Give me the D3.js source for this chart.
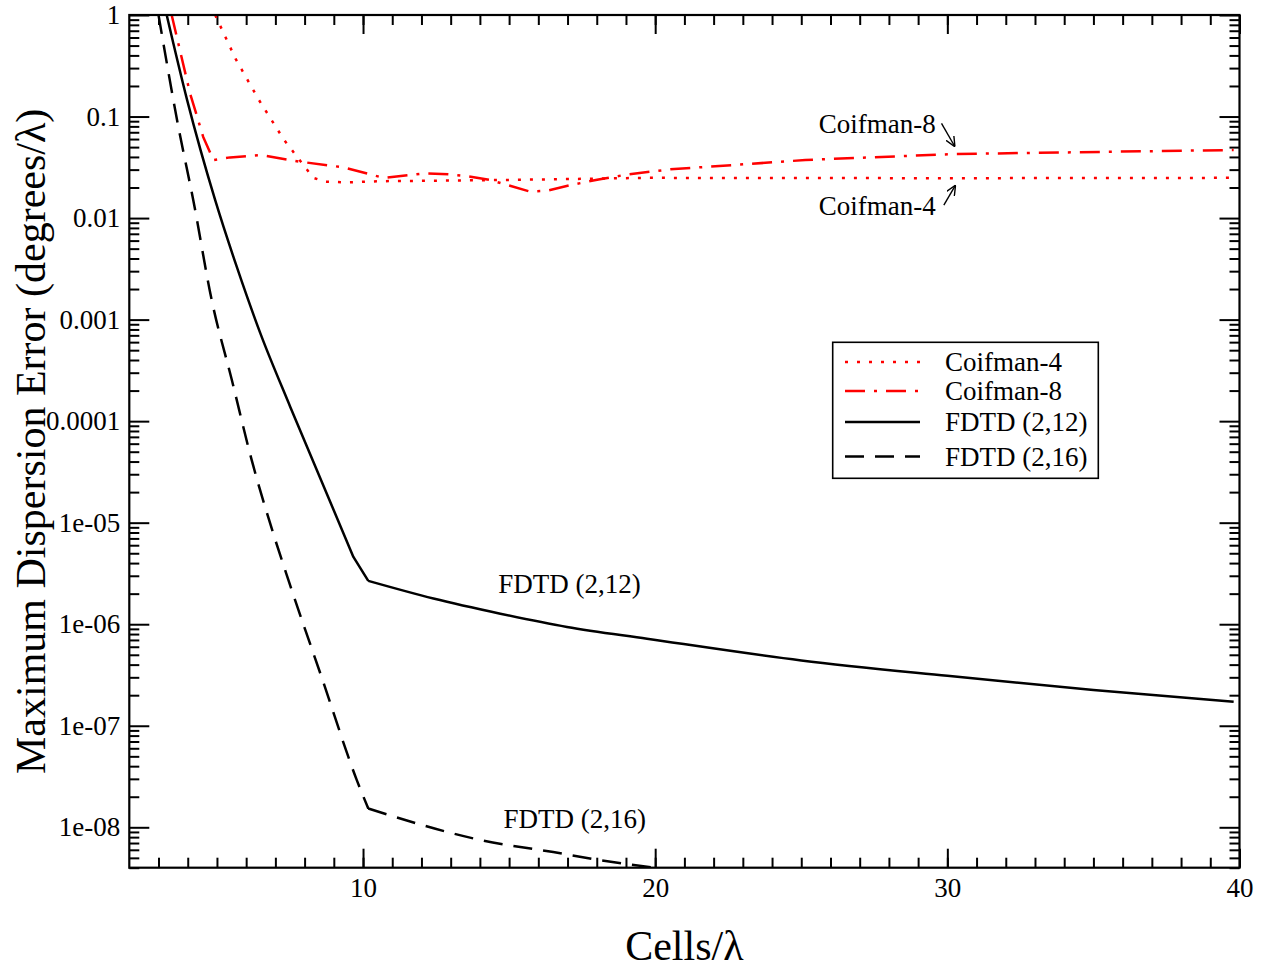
<!DOCTYPE html>
<head>
  <meta charset="utf-8">
  <script src="https://d3js.org/d3.v7.min.js"></script>
  <style>
    body { margin: 0; background: #fff; }
    text { font-family: "Liberation Serif", "Times New Roman", serif; }
  </style>
</head>
<body>

<div id="my_dataviz"></div>

<script>

  // values (cells per wavelength, max dispersion error)
  var coif4N = [4.94, 5.64, 6.44, 7.3, 8.05, 8.3, 8.7, 9.5, 10.7, 12.3, 14.75, 19.72, 30, 39.8];
  var coif4V = [1.0, 0.369, 0.145, 0.0587, 0.0308, 0.0249, 0.0228, 0.0225, 0.0231, 0.0233, 0.0237, 0.0249, 0.0247, 0.0249];

  var coif8N = [3.45, 4.08, 4.53, 4.88, 5.45, 6.48, 7.85, 9.33, 10.7, 12.07, 12.92, 13.55, 14.35, 15.72, 16.3, 17.1, 18.06, 19.09, 20.52, 25.14, 30.2, 35.6, 39.8];
  var coif8V = [1.0, 0.169, 0.063, 0.0373, 0.0396, 0.0418, 0.0359, 0.0316, 0.0249, 0.0275, 0.0270, 0.0259, 0.0237, 0.0182, 0.0186, 0.0211, 0.0240, 0.0270, 0.0302, 0.0373, 0.0427, 0.045, 0.0468];

  var fdtd12N = [3.28, 3.98, 4.94, 5.68, 6.48, 7.51, 9.67, 10.18, 12.41, 14.7, 16.98, 19.72, 25, 30, 35, 39.8];
  var fdtd12V = [1.0, 0.145, 0.015, 3.3e-3, 7.4e-4, 1.38e-4, 4.6e-6, 2.67e-6, 1.79e-6, 1.27e-6, 9.4e-7, 7.2e-7, 4.4e-7, 3.1e-7, 2.25e-7, 1.72e-7];

  var fdtd16N = [3.0, 3.68, 4.19, 4.82, 5.51, 6.19, 6.93, 7.45, 8.62, 9.79, 10.18, 14.12, 16.51, 18.12, 20];
  var fdtd16V = [1.0, 0.079, 0.015, 1.56e-3, 2.54e-4, 4.13e-5, 7.8e-6, 2.7e-6, 2.8e-7, 2.9e-8, 1.53e-8, 7.4e-9, 5.7e-9, 4.73e-9, 4.0e-9];

  var xTicks = [10, 20, 30, 40];
  var yTicks = [1e-8, 1e-7, 1e-6, 1e-5, 1e-4, 1e-3, 1e-2, 1e-1, 1];
  var yTickLabels = ["1e-08", "1e-07", "1e-06", "1e-05", "0.0001", "0.001", "0.01", "0.1", "1"];

  // corners: N values where the curve has a sharp bend
  var series = [
    {name: "Coifman-4",   n: coif4N,  v: coif4V,  color: "#ff0000", dash: "3,9",      smooth: false, corners: []},
    {name: "Coifman-8",   n: coif8N,  v: coif8V,  color: "#ff0000", dash: "20,9,3,9", smooth: false, corners: []},
    {name: "FDTD (2,12)", n: fdtd12N, v: fdtd12V, color: "#000000", dash: null,       smooth: true,  corners: [9.67, 10.18]},
    {name: "FDTD (2,16)", n: fdtd16N, v: fdtd16V, color: "#000000", dash: "19,11",    smooth: true,  corners: [10.18]}
  ];

  // in-plot annotations, anchored in data coordinates
  var labels = [
    {text: "Coifman-8",   n: 25.6,  v: 0.0688},
    {text: "Coifman-4",   n: 25.6,  v: 0.0107},
    {text: "FDTD (2,12)", n: 14.63, v: 2.02e-6},
    {text: "FDTD (2,16)", n: 14.81, v: 9.77e-9}
  ];
  var arrows = [
    {n0: 29.8,  v0: 0.0857, n1: 30.26, v1: 0.0504},
    {n0: 29.88, v0: 0.0134, n1: 30.28, v1: 0.0211}
  ];

  var W = 1266, H = 971;
  var margin = {top: 15, right: 26.5, bottom: 103.3, left: 129.3},
    width = W - margin.left - margin.right,
    height = H - margin.top - margin.bottom;

  var root = d3.select("#my_dataviz")
    .append("svg")
      .attr("width", W)
      .attr("height", H);

  var svg = root.append("g")
      .attr("transform", "translate(" + margin.left + "," + margin.top + ")");

  var x = d3.scaleLinear().domain([2, 40]).range([0, width]);
  var y = d3.scaleLog().domain([4e-9, 1]).range([height, 0]);

  // minor tick positions
  var xMinor = d3.range(3, 40);
  var yMinor = [];
  for (var k = -9; k < 0; k++) {
    for (var m = 2; m <= 9; m++) {
      var t = m * Math.pow(10, k);
      if (t >= 4e-9 && t < 1) yMinor.push(t);
    }
  }

  function addAxis(gen, tr) {
    var g = svg.append("g")
      .attr("transform", tr)
      .call(gen)
      .attr("font-size", 27)
      .attr("font-family", "Liberation Serif, serif");
    g.select(".domain").remove();
    g.selectAll(".tick line").attr("stroke-width", 2);
    g.selectAll(".tick text").attr("fill", "#000");
    return g;
  }

  // minor ticks, all four sides, pointing inward
  addAxis(d3.axisBottom(x).tickValues(xMinor).tickSize(-10).tickFormat(""), "translate(0," + height + ")");
  addAxis(d3.axisTop(x).tickValues(xMinor).tickSize(-10).tickFormat(""), "translate(0,0)");
  addAxis(d3.axisLeft(y).tickValues(yMinor).tickSize(-10).tickFormat(""), "translate(0,0)");
  addAxis(d3.axisRight(y).tickValues(yMinor).tickSize(-10).tickFormat(""), "translate(" + width + ",0)");

  // major ticks
  addAxis(d3.axisBottom(x).tickValues(xTicks).tickSize(-19).tickPadding(10).tickFormat(d3.format("d")),
    "translate(0," + height + ")");
  addAxis(d3.axisTop(x).tickValues(xTicks).tickSize(-19).tickFormat(""), "translate(0,0)");
  addAxis(d3.axisLeft(y).tickValues(yTicks).tickSize(-20).tickPadding(9)
    .tickFormat(function(d, i) { return yTickLabels[i]; }), "translate(0,0)");
  addAxis(d3.axisRight(y).tickValues(yTicks).tickSize(-20).tickFormat(""), "translate(" + width + ",0)");

  // clip
  svg.append("clipPath").attr("id", "plotclip")
    .append("rect").attr("width", width).attr("height", height);

  var lineSmooth = d3.line()
    .curve(d3.curveMonotoneX)
    .x(function(d) { return x(d[0]); })
    .y(function(d) { return y(d[1]); });
  var lineStraight = d3.line()
    .x(function(d) { return x(d[0]); })
    .y(function(d) { return y(d[1]); });

  // split at the corners so the smoothing keeps them sharp
  function pathFor(s) {
    var pts = d3.zip(s.n, s.v);
    var gen = s.smooth ? lineSmooth : lineStraight;
    var pieces = [], cur = [];
    pts.forEach(function(p) {
      cur.push(p);
      if (s.corners.indexOf(p[0]) >= 0) { pieces.push(cur); cur = [p]; }
    });
    if (cur.length > 1) pieces.push(cur);
    return pieces.map(function(pc) { return gen(pc); }).join("");
  }

  svg.append("g").attr("clip-path", "url(#plotclip)")
    .selectAll("path")
    .data(series)
    .enter()
    .append("path")
      .attr("d", pathFor)
      .attr("fill", "none")
      .attr("stroke", function(s) { return s.color; })
      .attr("stroke-width", 2.5)
      .attr("stroke-linejoin", "round")
      .attr("stroke-dasharray", function(s) { return s.dash; });

  // frame
  svg.append("rect")
    .attr("width", width)
    .attr("height", height)
    .attr("fill", "none")
    .attr("stroke", "#000")
    .attr("stroke-width", 2.2);

  // annotations
  svg.selectAll(".lbl")
    .data(labels)
    .enter()
    .append("text")
      .attr("class", "lbl")
      .attr("x", function(d) { return x(d.n); })
      .attr("y", function(d) { return y(d.v); })
      .attr("font-size", 27)
      .text(function(d) { return d.text; });

  root.append("defs").append("marker")
    .attr("id", "arr")
    .attr("markerUnits", "userSpaceOnUse")
    .attr("viewBox", "0 0 10 10")
    .attr("markerWidth", 10)
    .attr("markerHeight", 10)
    .attr("refX", 10)
    .attr("refY", 5)
    .attr("orient", "auto")
    .append("path")
      .attr("d", "M0,0.5L10,5L0,9.5")
      .attr("fill", "none")
      .attr("stroke", "#000")
      .attr("stroke-width", 1.4);

  svg.selectAll(".arw")
    .data(arrows)
    .enter()
    .append("line")
      .attr("class", "arw")
      .attr("x1", function(d) { return x(d.n0); })
      .attr("y1", function(d) { return y(d.v0); })
      .attr("x2", function(d) { return x(d.n1); })
      .attr("y2", function(d) { return y(d.v1); })
      .attr("stroke", "#000")
      .attr("stroke-width", 1.4)
      .attr("marker-end", "url(#arr)");

  // legend
  var legRows = [362, 391, 422, 456.5];
  var leg = root.append("g");
  leg.append("rect")
    .attr("x", 832.7).attr("y", 342.3)
    .attr("width", 265.6).attr("height", 136)
    .attr("fill", "#fff")
    .attr("stroke", "#000")
    .attr("stroke-width", 1.6);

  var rows = leg.selectAll(".row")
    .data(series)
    .enter()
    .append("g")
      .attr("transform", function(d, i) { return "translate(845," + legRows[i] + ")"; });
  rows.append("line")
    .attr("x1", 0).attr("x2", 75)
    .attr("stroke", function(d) { return d.color; })
    .attr("stroke-width", 2.5)
    .attr("stroke-dasharray", function(d) { return d.dash; });
  rows.append("text")
    .attr("x", 100)
    .attr("dy", "0.35em")
    .attr("font-size", 27)
    .text(function(d) { return d.name; });

  // axis titles
  root.append("text")
    .attr("x", margin.left + width / 2)
    .attr("y", 960)
    .attr("text-anchor", "middle")
    .attr("font-size", 42)
    .text("Cells/λ");

  root.append("text")
    .attr("transform", "translate(45," + (margin.top + height / 2) + ") rotate(-90)")
    .attr("text-anchor", "middle")
    .attr("font-size", 42)
    .text("Maximum Dispersion Error (degrees/λ)");

</script>

</body>
